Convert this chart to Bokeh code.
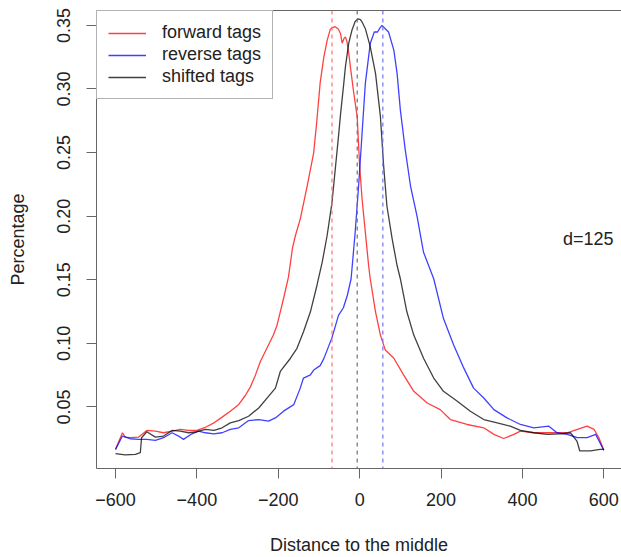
from bokeh.plotting import figure
from bokeh.models import (Range1d, FixedTicker, LinearAxis, Span, Label, Legend,
                          LegendItem, CustomJSTickFormatter, NumeralTickFormatter)
from bokeh.embed import file_html
from bokeh.resources import INLINE

FONT = "Liberation Sans"

# ---- data ----
fwd_x = [-600, -583, -576, -564, -543, -523, -502, -482, -461, -441, -420, -400, -379, -358,
         -338, -318, -297, -281, -268, -256, -244, -228, -212, -203, -195, -185, -175, -165,
         -158, -146, -129, -113, -105, -97, -88, -80, -72, -68, -60, -52, -47, -43, -38, -35,
         -31, -26, -23, -15, -6, 0, 6, 14, 22, 26, 39, 51, 63, 84, 108, 133, 166, 198, 223,
         264, 305, 330, 354, 379, 395, 428, 469, 510, 535, 559, 576, 588, 600]
fwd_y = [0.0166, 0.0297, 0.0263, 0.0258, 0.0263, 0.0315, 0.0310, 0.0297, 0.0310, 0.0323,
         0.0315, 0.0315, 0.0340, 0.0375, 0.0420, 0.0466, 0.0520, 0.0590, 0.0660, 0.0752,
         0.0857, 0.0961, 0.1065, 0.1143, 0.1248, 0.1380, 0.1520, 0.1750, 0.1846, 0.1977,
         0.2237, 0.2498, 0.2758, 0.3050, 0.3250, 0.3380, 0.3470, 0.3480, 0.3490, 0.3470,
         0.3435, 0.3360, 0.3400, 0.3410, 0.3370, 0.3260, 0.3180, 0.2980, 0.2780, 0.2393,
         0.2133, 0.1873, 0.1612, 0.1508, 0.1248, 0.1065, 0.0948, 0.0883, 0.0752, 0.0623,
         0.0531, 0.0479, 0.0401, 0.0362, 0.0336, 0.0284, 0.0252, 0.0284, 0.0310, 0.0297,
         0.0297, 0.0297, 0.0323, 0.0349, 0.0323, 0.0258, 0.0159]

rev_x = [-600, -583, -564, -543, -523, -502, -482, -461, -445, -433, -412, -396, -379, -359,
         -338, -318, -297, -273, -248, -224, -207, -187, -162, -146, -138, -121, -113, -97,
         -88, -68, -52, -40, -30, -21, -11, -2, 6, 14, 26, 36, 44, 50, 55, 63, 71, 84, 92,
         100, 112, 125, 141, 157, 182, 206, 231, 256, 280, 305, 330, 362, 395, 428, 465,
         485, 510, 535, 559, 580, 600]
rev_y = [0.0166, 0.0271, 0.0250, 0.0245, 0.0245, 0.0237, 0.0258, 0.0297, 0.0271, 0.0245,
         0.0289, 0.0310, 0.0297, 0.0289, 0.0297, 0.0323, 0.0336, 0.0393, 0.0401, 0.0388,
         0.0414, 0.0467, 0.0518, 0.0648, 0.0727, 0.0752, 0.0790, 0.0825, 0.0880, 0.1045,
         0.1220, 0.1280, 0.1380, 0.1508, 0.1873, 0.2263, 0.2654, 0.3044, 0.3357, 0.3448,
         0.3448, 0.3480, 0.3500, 0.3474, 0.3448, 0.3305, 0.3123, 0.2836, 0.2523, 0.2237,
         0.2000, 0.1716, 0.1508, 0.1195, 0.0987, 0.0805, 0.0648, 0.0570, 0.0479, 0.0414,
         0.0362, 0.0336, 0.0349, 0.0297, 0.0284, 0.0258, 0.0258, 0.0284, 0.0159]

sh_x = [-600, -576, -551, -539, -536, -523, -502, -482, -461, -441, -420, -400, -379, -358,
        -338, -318, -297, -273, -248, -224, -207, -195, -170, -154, -138, -121, -105, -92,
        -80, -68, -60, -52, -47, -39, -35, -27, -23, -19, -11, -4, 2, 6, 14, 26, 39, 51, 59,
        67, 80, 92, 100, 116, 133, 157, 182, 206, 240, 272, 305, 338, 370, 395, 428, 461,
        493, 518, 534, 541, 567, 591, 600]
sh_y = [0.0133, 0.0123, 0.0127, 0.0140, 0.0258, 0.0305, 0.0263, 0.0271, 0.0315, 0.0310,
        0.0297, 0.0305, 0.0323, 0.0315, 0.0336, 0.0375, 0.0393, 0.0427, 0.0492, 0.0583,
        0.0648, 0.0779, 0.0883, 0.0961, 0.1091, 0.1248, 0.1455, 0.1638, 0.1846, 0.2107,
        0.2367, 0.2627, 0.2800, 0.3044, 0.3174, 0.3357, 0.3410, 0.3461, 0.3530, 0.3552,
        0.3545, 0.3526, 0.3474, 0.3333, 0.3123, 0.2784, 0.2393, 0.2080, 0.1820, 0.1612,
        0.1508, 0.1248, 0.1065, 0.0883, 0.0727, 0.0623, 0.0545, 0.0466, 0.0401, 0.0375,
        0.0349, 0.0315, 0.0297, 0.0284, 0.0289, 0.0297, 0.0232, 0.0154, 0.0154, 0.0166,
        0.0166]

peak_positions = [-68, -6, 57]          # forward, shifted, reverse
peak_colors = ["#ff7070", "#707070", "#7070ff"]
series_labels = ["forward tags", "reverse tags", "shifted tags"]
series_colors = ["#ff0000", "#0000ff", "#000000"]
x_ticks = [-600, -400, -200, 0, 200, 400, 600]
y_ticks = [0.05, 0.10, 0.15, 0.20, 0.25, 0.30, 0.35]
d_text = "d=125"
d_pos = (562, 0.182)

AX = "#666666"

p = figure(width=621, height=557, output_backend="svg", toolbar_location=None,
           x_range=Range1d(-646.7, 643.5), y_range=Range1d(0.0016, 0.3617),
           min_border_left=96, min_border_right=0, min_border_top=10,
           min_border_bottom=86, x_axis_location=None, y_axis_location=None)
p.outline_line_color = None
p.xgrid.visible = False
p.ygrid.visible = False
p.background_fill_color = "white"
p.border_fill_color = "white"

xa = LinearAxis(ticker=FixedTicker(ticks=x_ticks),
                formatter=CustomJSTickFormatter(code="return tick.toFixed(0).replace('-', '\u2212')"),
                axis_label="Distance to the middle")
ya = LinearAxis(ticker=FixedTicker(ticks=y_ticks),
                formatter=NumeralTickFormatter(format="0.00"),
                axis_label="Percentage", major_label_orientation="vertical")
for ax in (xa, ya):
    ax.axis_line_color = AX
    ax.axis_line_width = 1
    ax.major_tick_line_color = AX
    ax.major_tick_in = 0
    ax.major_tick_out = 10
    ax.minor_tick_line_color = None
    ax.major_label_text_font = FONT
    ax.major_label_text_font_size = "18px"
    ax.major_label_text_color = "#222222"
    ax.axis_label_text_font = FONT
    ax.axis_label_text_font_size = "18px"
    ax.axis_label_text_font_style = "normal"
    ax.axis_label_text_color = "#222222"
xa.major_label_standoff = 14
xa.axis_label_standoff = 26
ya.major_label_standoff = 16
ya.axis_label_standoff = 27
p.add_layout(xa, "below")
p.add_layout(ya, "left")

top = LinearAxis(ticker=FixedTicker(ticks=[]), major_tick_out=0, major_tick_in=0,
                 major_label_standoff=0, major_label_text_font_size="0px",
                 minor_tick_line_color=None, axis_line_color=AX)
p.add_layout(top, "above")

for loc, col in zip(peak_positions, peak_colors):
    p.add_layout(Span(location=loc, dimension="height", line_color=col,
                      line_width=1.2, line_dash="4 4"))

renderers = []
for xs, ys, col in [(fwd_x, fwd_y, series_colors[0]), (rev_x, rev_y, series_colors[1]),
                    (sh_x, sh_y, series_colors[2])]:
    r = p.line(xs, ys, line_color=col, line_width=1.3, line_alpha=0.75)
    renderers.append(r)

legend = Legend(items=[LegendItem(label=l, renderers=[r]) for l, r in zip(series_labels, renderers)],
                location="top_left", margin=0, padding=11, spacing=1,
                glyph_width=38, glyph_height=20, label_standoff=16,
                label_text_font=FONT, label_text_font_size="18px",
                label_text_color="#222222",
                border_line_color=AX, border_line_width=1, background_fill_alpha=1)
p.add_layout(legend)

p.add_layout(Label(x=d_pos[0], y=d_pos[1], text=d_text, text_align="center",
                   text_baseline="middle", text_font=FONT, text_font_size="18px",
                   text_color="#222222"))

open("out.html", "w").write(file_html(p, INLINE))
